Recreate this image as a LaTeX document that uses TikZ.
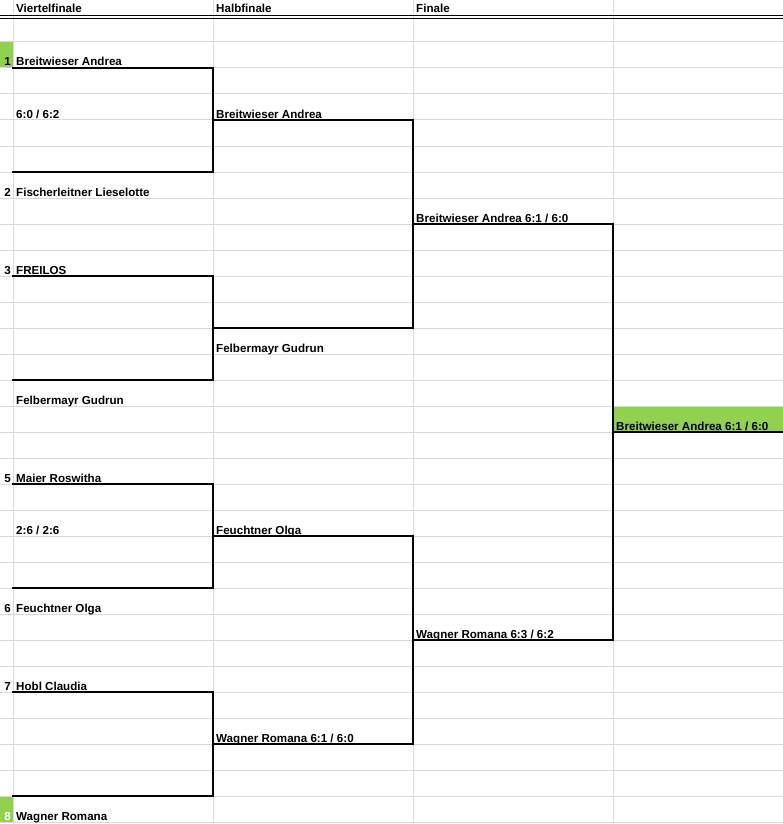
\documentclass[tikz,border=0pt]{standalone}
\usepackage{fontspec}
\setmainfont{Liberation Sans}
\definecolor{gridgray}{RGB}{217,217,217}
\definecolor{seedgreen}{RGB}{146,208,80}
\tikzset{
  cell/.style={anchor=base west, inner sep=0pt, font=\fontsize{11.6}{14}\bfseries},
  seed/.style={anchor=base east, inner sep=0pt, font=\fontsize{11.6}{14}\bfseries},
  bracket/.style={line width=2pt, line cap=rect}
}
\begin{document}
\begin{tikzpicture}[x=1pt,y=-1pt]
\useasboundingbox (0,0) rectangle (783,824);
% green cells
\fill[seedgreen] (0,42) rectangle (13,68);
\fill[seedgreen] (0,796) rectangle (13,822);
\fill[seedgreen] (613,406) rectangle (783,432);
% grid
\foreach \r in {1,...,31}
  \draw[gridgray, line width=1pt] (0,16+26*\r) -- (783,16+26*\r);
\foreach \c in {13,213,413,613}
  \draw[gridgray, line width=1pt] (\c,0) -- (\c,824);
\draw[line width=0.8pt] (0,15) -- (783,15);
\draw[line width=0.8pt] (0,18) -- (783,18);
% headers
\node[cell] (hv) at (16,13) {Viertelfinale};
\node[cell] (hh) at (216,13) {Halbfinale};
\node[cell] (hf) at (416,13) {Finale};
% viertelfinale
\node[seed] at (11,66) {1};
\node[cell] (p1) at (16,66) {Breitwieser Andrea};
\node[cell] (s1) at (16,118) {6:0 / 6:2};
\node[seed] at (11,196) {2};
\node[cell] (p2) at (16,196) {Fischerleitner Lieselotte};
\node[seed] at (11,274) {3};
\node[cell] (p3) at (16,274) {FREILOS};
\node[cell] (p4) at (16,404) {Felbermayr Gudrun};
\node[seed] at (11,482) {5};
\node[cell] (p5) at (16,482) {Maier Roswitha};
\node[cell] (s3) at (16,534) {2:6 / 2:6};
\node[seed] at (11,612) {6};
\node[cell] (p6) at (16,612) {Feuchtner Olga};
\node[seed] at (11,690) {7};
\node[cell] (p7) at (16,690) {Hobl Claudia};
\node[seed, text=white] at (11,820) {8};
\node[cell] (p8) at (16,820) {Wagner Romana};
% halbfinale
\node[cell] (h1) at (216,118) {Breitwieser Andrea};
\node[cell] (h2) at (216,352) {Felbermayr Gudrun};
\node[cell] (h3) at (216,534) {Feuchtner Olga};
\node[cell] (h4) at (216,742) {Wagner Romana 6:1 / 6:0};
% finale
\node[cell] (f1) at (416,222) {Breitwieser Andrea 6:1 / 6:0};
\node[cell] (f2) at (416,638) {Wagner Romana 6:3 / 6:2};
\node[cell] (w) at (616,430) {Breitwieser Andrea 6:1 / 6:0};
% brackets
\coordinate (q1a) at (13,68);  \coordinate (q1b) at (13,172);
\coordinate (q2a) at (13,276); \coordinate (q2b) at (13,380);
\coordinate (q3a) at (13,484); \coordinate (q3b) at (13,588);
\coordinate (q4a) at (13,692); \coordinate (q4b) at (13,796);
\coordinate (e1) at (413,120); \coordinate (e2) at (413,328);
\coordinate (e3) at (413,536); \coordinate (e4) at (413,744);
\coordinate (g1) at (613,224); \coordinate (g2) at (613,640);
\coordinate (wend) at (783,432);
\draw[bracket] (q1a) -| (213,120) |- (q1b);
\draw[bracket] (q2a) -| (213,328) |- (q2b);
\draw[bracket] (q3a) -| (213,536) |- (q3b);
\draw[bracket] (q4a) -| (213,744) |- (q4b);
\draw[bracket] (213,120) -- (e1) -- (e2) -- (213,328);
\draw[bracket] (213,536) -- (e3) -- (e4) -- (213,744);
\draw[bracket] (413,224) -- (g1) -- (g2) -- (413,640);
\draw[bracket] (613,432) -- (wend);
\end{tikzpicture}
\end{document}
